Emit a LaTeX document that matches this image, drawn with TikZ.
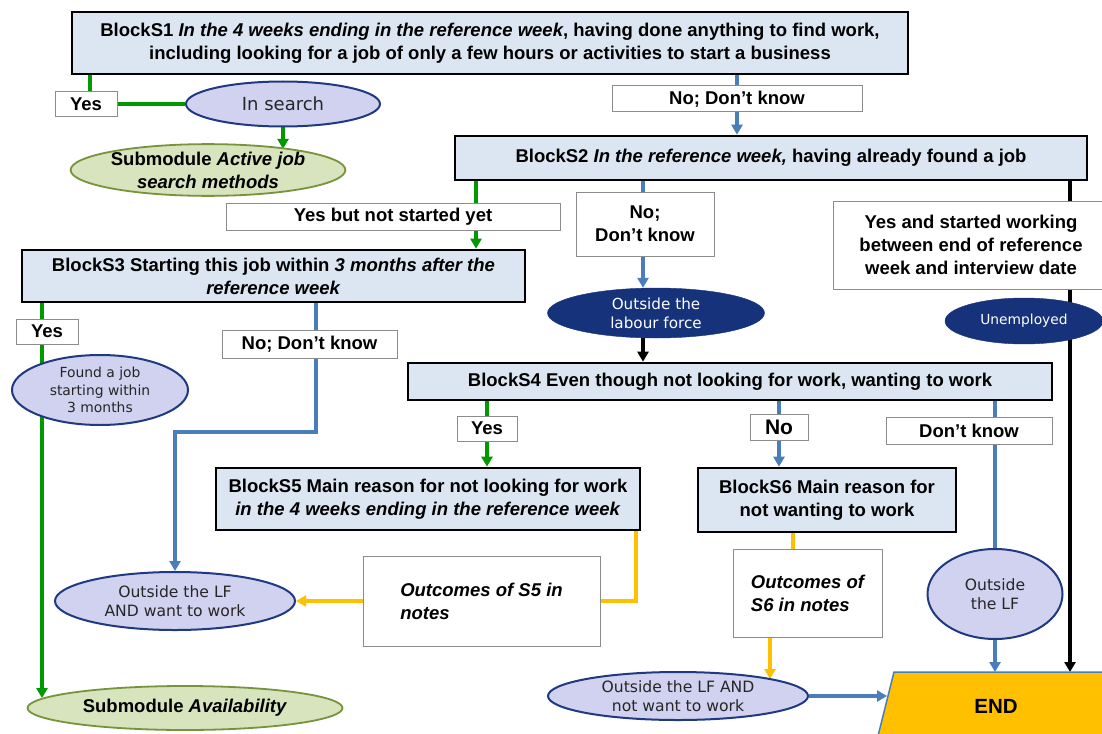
\documentclass[tikz,border=0pt]{standalone}
\usepackage{fontspec}
\setmainfont{Liberation Sans}
\newfontfamily\verd{DejaVu Sans}
\usetikzlibrary{arrows.meta,shapes.geometric,backgrounds}
\definecolor{blockfill}{HTML}{DCE6F2}
\definecolor{lavfill}{HTML}{D0D2F0}
\definecolor{navy}{HTML}{1F3A80}
\definecolor{darknavy}{HTML}{16327A}
\definecolor{subfill}{HTML}{D7E4BD}
\definecolor{subborder}{HTML}{77933C}
\definecolor{gline}{HTML}{009A00}
\definecolor{bline}{HTML}{4A7EBB}
\definecolor{yline}{HTML}{FFC000}
\definecolor{lblborder}{HTML}{8C8C8C}
\tikzset{
  bigfont/.style={font=\bfseries\fontsize{18.5}{23}\selectfont},
  block/.style={rectangle, draw=black, line width=2.6pt, fill=blockfill, align=center, inner sep=0pt, bigfont},
  lbl/.style={rectangle, draw=lblborder, line width=1pt, fill=white, align=center, inner sep=0pt, bigfont},
  lav/.style={ellipse, draw=navy, line width=2pt, fill=lavfill, align=center, inner sep=0pt, text=black!85},
  dark/.style={ellipse, draw=darknavy, fill=darknavy, align=center, inner sep=0pt, text=white},
  sub/.style={ellipse, draw=subborder, line width=1.8pt, fill=subfill, align=center, inner sep=0pt, bigfont},
  conn/.style={line width=3.8pt},
  gl/.style={conn, draw=gline},
  bl/.style={conn, draw=bline},
  yl/.style={conn, draw=yline},
  kl/.style={conn, draw=black},
  tip/.style={-{Triangle[length=10pt,width=11pt]}},
}
\begin{document}
\begin{tikzpicture}[x=1pt,y=-1pt]
\useasboundingbox (0,0) rectangle (1102,733);

% END shape
\filldraw[fill=yline, draw=bline, line width=1.5pt] (894,672) -- (1120,672) -- (1105,740) -- (877,740) -- cycle;
\node[font=\bfseries\fontsize{20.5}{22}\selectfont] (END) at (996,706) {END};

% blocks
\node[block, minimum width=836pt, minimum height=62pt] (S1) at (490,43)
  {BlockS1 \textit{In the 4 weeks ending in the reference week}, having done anything to find work,\\
   including looking for a job of only a few hours or activities to start a business};
\node[block, minimum width=632pt, minimum height=44pt] (S2) at (771,158)
  {BlockS2 \textit{In the reference week,} having already found a job};
\node[block, minimum width=503pt, minimum height=52pt] (S3) at (273.5,276)
  {BlockS3 Starting this job within \textit{3 months after the}\\ \textit{reference week}};
\node[block, minimum width=644pt, minimum height=37pt] (S4) at (730,381.5)
  {BlockS4 Even though not looking for work, wanting to work};
\node[block, minimum width=424pt, minimum height=62pt] (S5) at (428,499)
  {BlockS5 Main reason for not looking for work\\ \textit{in the 4 weeks ending in the reference week}};
\node[block, minimum width=258pt, minimum height=64pt] (S6) at (827,500)
  {BlockS6 Main reason for\\ not wanting to work};

% labels
\node[lbl, minimum width=62pt, minimum height=25pt] (yes1) at (86,104) {Yes};
\node[lbl, minimum width=250pt, minimum height=26pt] (nodk1) at (737,99) {No; Don't know};
\node[lbl, minimum width=334pt, minimum height=27pt] (ynsy) at (393,216.5) {Yes but not started yet};
\node[lbl, minimum width=138pt, minimum height=64pt] (nodk2) at (645,224) {No;\\Don't know};
\node[lbl, minimum width=276pt, minimum height=88pt] (ystart) at (971,245)
  {Yes and started working\\between end of reference\\week and interview date};
\node[lbl, minimum width=62pt, minimum height=25pt] (yes3) at (47,331.5) {Yes};
\node[lbl, minimum width=175pt, minimum height=28pt] (nodk3) at (309.5,344) {No; Don't know};
\node[lbl, minimum width=60pt, minimum height=25pt] (yes4) at (487,428.5) {Yes};
\node[lbl, minimum width=58pt, minimum height=26pt, font=\bfseries\fontsize{21}{22}\selectfont] (no4) at (779,427) {No};
\node[lbl, minimum width=166pt, minimum height=27pt] (dk4) at (969,430.5) {Don't know};
\node[lbl, minimum width=237pt, minimum height=90pt, font=\bfseries\itshape\fontsize{18.5}{23}\selectfont, align=left] (out5) at (481.5,601)
  {Outcomes of S5 in\\notes};
\node[lbl, minimum width=149pt, minimum height=88pt, font=\bfseries\itshape\fontsize{18.5}{23}\selectfont, align=left] (out6) at (807.5,593)
  {Outcomes of\\S6 in notes};

% ellipses
\node[lav, minimum width=194pt, minimum height=45pt, font=\verd\fontsize{18}{20}\selectfont] (insearch) at (283,104) {In search};
\node[sub, minimum width=274pt, minimum height=46pt] (subA) at (208,170) {Submodule \textit{Active job}\\\textit{search methods}};
\node[dark, minimum width=217pt, minimum height=50pt, font=\verd\fontsize{15.2}{19}\selectfont] (olf) at (656,313) {Outside the\\labour force};
\node[dark, minimum width=158pt, minimum height=46pt, font=\verd\fontsize{13.8}{16}\selectfont] (unemp) at (1024,321) {Unemployed};
\node[lav, minimum width=176pt, minimum height=70pt, font=\verd\fontsize{13.9}{17.5}\selectfont] (found) at (100,390) {Found a job\\starting within\\3 months};
\node[lav, minimum width=240pt, minimum height=58pt, font=\verd\fontsize{15.6}{19}\selectfont] (olfw) at (175,601) {Outside the LF\\AND want to work};
\node[lav, minimum width=135pt, minimum height=90pt, font=\verd\fontsize{15.6}{19}\selectfont] (olfdk) at (995,594) {Outside\\the LF};
\node[lav, minimum width=260pt, minimum height=48pt, font=\verd\fontsize{15.6}{19}\selectfont] (olfn) at (678,696) {Outside the LF AND\\not want to work};
\node[sub, minimum width=315pt, minimum height=44pt] (subAv) at (185,708) {Submodule \textit{Availability}};

% helper coordinates
\coordinate (gx1) at (90,0);
\coordinate (gx2) at (476,0);
\coordinate (bx2) at (643,0);
\coordinate (kx) at (1070,0);
\coordinate (gx3) at (42,0);
\coordinate (bx3) at (316,0);
\coordinate (bend) at (316,432);
\coordinate (bx4) at (779,0);
\coordinate (bx5) at (995,0);
\coordinate (endtop) at (0,672);
\coordinate (endleft) at (887,0);
\coordinate (yx5) at (636,0);
\coordinate (yx6) at (793,0);
\coordinate (yx7) at (770,0);

\begin{scope}[on background layer]
\fill[white] (0,0) rectangle (1102,733);
\draw[gl] (gx1 |- S1.south) -- (gx1 |- yes1.north);
\draw[gl] (yes1.east) -- (insearch.west);
\draw[gl, tip] (insearch.south) -- (insearch.south |- subA.14.4);
\draw[bl] (nodk1.north |- S1.south) -- (nodk1.north);
\draw[bl, tip] (nodk1.south) -- (nodk1.south |- S2.north);
\draw[gl] (gx2 |- S2.south) -- (gx2 |- ynsy.north);
\draw[gl, tip] (gx2 |- ynsy.south) -- (gx2 |- S3.north);
\draw[bl] (bx2 |- S2.south) -- (bx2 |- nodk2.north);
\draw[bl, tip] (bx2 |- nodk2.south) -- (bx2 |- olf.north);
\draw[kl, tip] (bx2 |- olf.south) -- (bx2 |- S4.north);
\draw[kl, tip] (kx |- S2.south) -- (kx |- endtop);
\draw[gl, tip] (gx3 |- S3.south) -- (gx3 |- subAv.176);
\draw[bl] (bx3 |- S3.south) -- (bx3 |- nodk3.north);
\draw[bl, tip] (bx3 |- nodk3.south) -- (bend) -| (olfw.north);
\draw[gl] (yes4.north |- S4.south) -- (yes4.north);
\draw[gl, tip] (yes4.south) -- (yes4.south |- S5.north);
\draw[bl] (bx4 |- S4.south) -- (bx4 |- no4.north);
\draw[bl, tip] (bx4 |- no4.south) -- (bx4 |- S6.north);
\draw[bl] (bx5 |- S4.south) -- (bx5 |- olfdk.north);
\draw[bl, tip] (olfdk.south) -- (bx5 |- endtop);
\draw[yl] (yx5 |- S5.south) |- (out5.east);
\draw[yl, tip] (out5.west) -- (olfw.east);
\draw[yl] (yx6 |- S6.south) -- (yx6 |- out6.north);
\draw[yl, tip] (yx7 |- out6.south) -- (yx7 |- olfn.10.5);
\draw[bl, tip] (olfn.east) -- (endleft |- olfn.east);
\end{scope}
\end{tikzpicture}
\end{document}
